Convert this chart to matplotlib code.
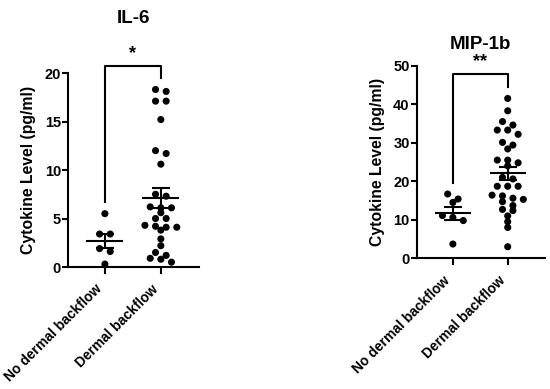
import numpy as np
import matplotlib
matplotlib.use('Agg')
import matplotlib.pyplot as plt

plt.rcParams['font.family'] = ['Liberation Sans', 'DejaVu Sans']

groups = ['No dermal backflow', 'Dermal backflow']

# IL-6 (pg/ml)
il6_no = [5.5, 3.4, 3.4, 1.9, 1.6, 0.3]
il6_yes = [18.3, 18.1, 17.1, 17.1, 15.2, 12.0, 11.7, 10.6, 7.5, 7.3,
           6.2, 6.1, 6.1, 5.6, 5.0, 5.0, 4.3, 4.2, 4.1, 4.1, 3.8, 2.9,
           2.2, 1.5, 1.2, 0.9, 0.8, 0.5]

# MIP-1b (pg/ml)
mip_no = [16.7, 15.4, 14.5, 11.1, 10.6, 9.8, 3.7]
mip_yes = [41.5, 38.3, 35.5, 34.6, 33.3, 33.3, 32.2, 30.1, 29.4, 28.4,
           25.5, 25.5, 24.8, 24.0, 21.0, 20.6, 18.7, 18.7, 18.7, 16.4,
           16.2, 15.6, 15.3, 14.7, 13.7, 12.7, 12.4, 11.0, 9.5, 8.0, 3.0]


def row_offsets(vals, thresh, step):
    # simple graphpad-like layout: put close values in one row, spread them out
    order = np.argsort(vals)[::-1]
    offs = np.zeros(len(vals))
    rows = []
    for i in order:
        if rows and vals[rows[-1][0]] - vals[i] <= thresh:
            rows[-1].append(i)
        else:
            rows.append([i])
    for r in rows:
        n = len(r)
        for k, i in enumerate(r):
            offs[i] = (k - (n - 1) / 2) * step
    return offs


def panel(ax, data, ymax, yticks, stars, bracket, thresh):
    for pos, vals in enumerate(data):
        vals = np.array(vals)
        xs = pos + row_offsets(vals, thresh, 0.19)
        ax.scatter(xs, vals, s=26, color='black', edgecolors='none', zorder=3, clip_on=False)
        m = vals.mean()
        sem = vals.std(ddof=1) / np.sqrt(len(vals))
        ax.hlines(m, pos - 0.33, pos + 0.33, color='black', lw=1.5, zorder=4)
        ax.errorbar(pos, m, yerr=sem, color='black', lw=1.5, capsize=6.5,
                    capthick=1.5, zorder=4)
    top, left_end, right_end = bracket
    ax.plot([0, 0, 1, 1], [left_end, top, top, right_end], color='black', lw=1.5,
            clip_on=False)
    ax.text(0.5, top + ymax * 0.02, stars, ha='center', va='bottom',
            fontsize=13, fontweight='bold')
    ax.set_xlim(-0.66, 1.68)
    ax.set_ylim(0, ymax)
    ax.set_yticks(yticks)
    ax.set_xticks([0, 1])
    ax.set_xticklabels(groups, rotation=45, ha='right', va='bottom',
                       rotation_mode='anchor', fontsize=10, fontweight='bold')
    for lab in ax.get_yticklabels():
        lab.set_fontweight('bold')
        lab.set_fontsize(10.5)
    ax.spines['top'].set_visible(False)
    ax.spines['right'].set_visible(False)
    for s in ['left', 'bottom']:
        ax.spines[s].set_linewidth(1.5)
    ax.tick_params(axis='y', length=4, width=1.5, pad=1)
    ax.tick_params(axis='x', length=5, width=1.5, pad=13)
    ax.set_ylabel('Cytokine Level (pg/ml)', fontsize=11.3, fontweight='bold', labelpad=6)


fig = plt.figure(figsize=(5.5, 3.89), dpi=100)
ax1 = fig.add_axes([0.1236, 0.3136, 0.238, 0.4987])
ax2 = fig.add_axes([0.7576, 0.336, 0.2333, 0.495])

panel(ax1, [il6_no, il6_yes], 20, [0, 5, 10, 15, 20], '*', (20.7, 6.7, 19.5), 0.45)
ax1.set_title('IL-6', fontsize=13.5, fontweight='bold', pad=36)

panel(ax2, [mip_no, mip_yes], 50, [0, 10, 20, 30, 40, 50], '**', (47.8, 19.6, 44.5), 1.3)
ax2.set_title('MIP-1b', fontsize=13.5, fontweight='bold', pad=12)

fig.savefig('out.png', dpi=100)
